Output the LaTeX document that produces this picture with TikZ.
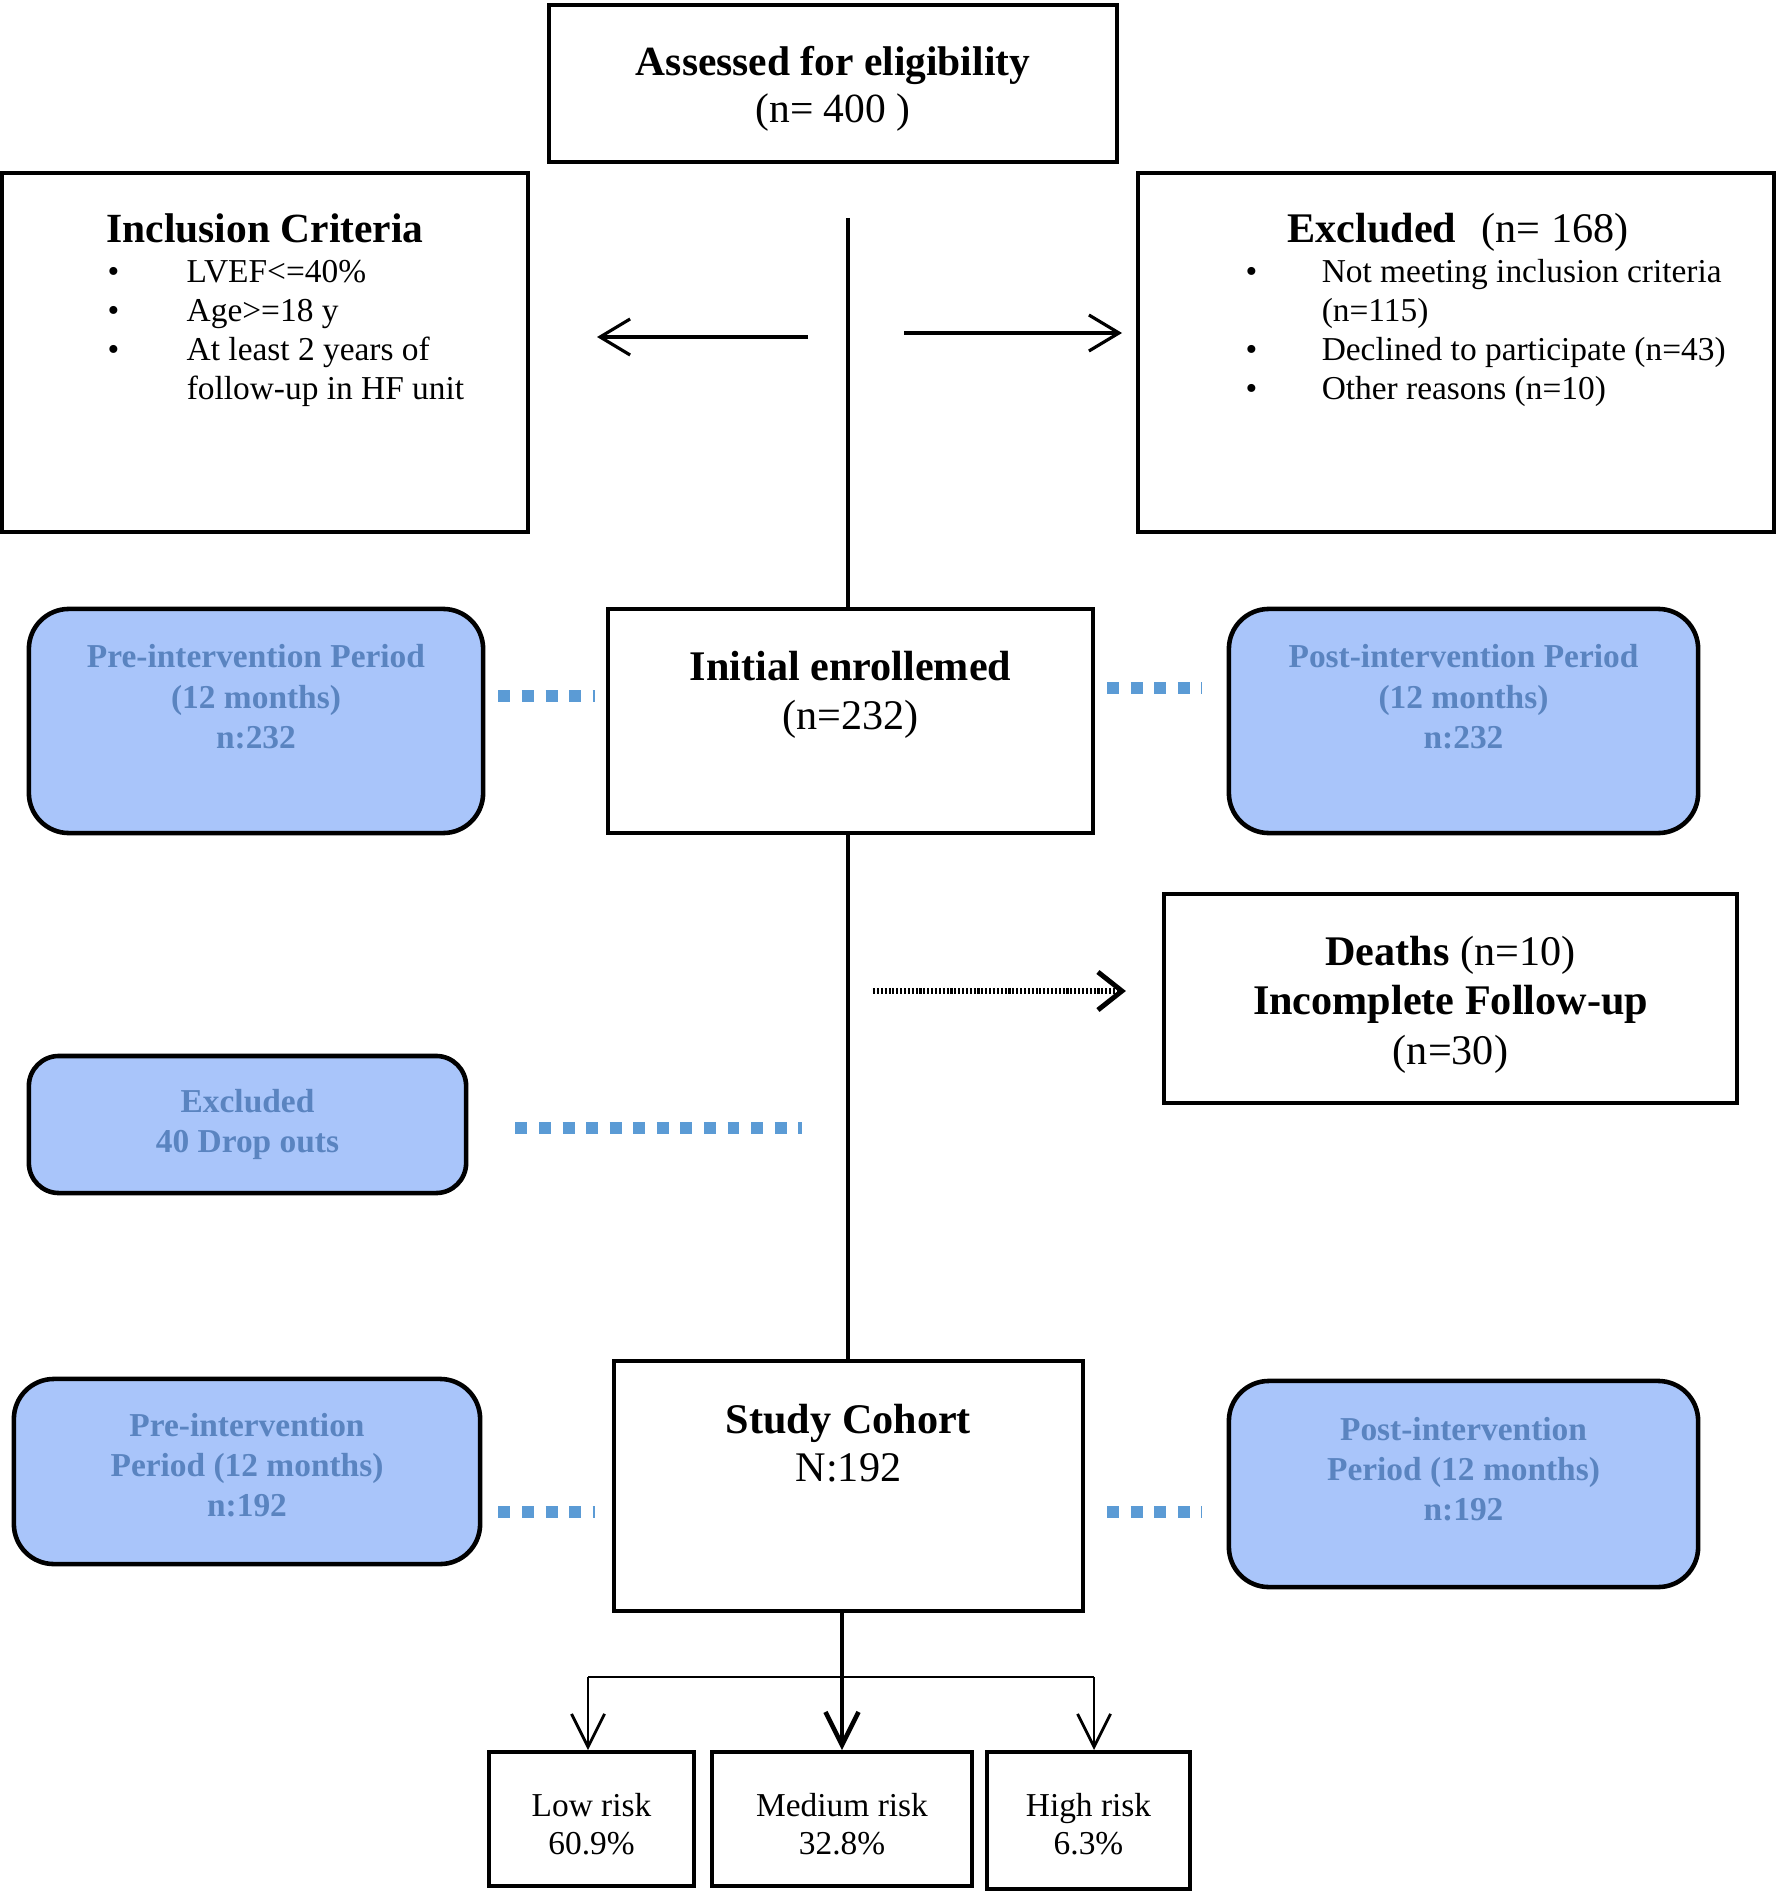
\documentclass[tikz,border=0pt]{standalone}
\usepackage{fontspec}
\setmainfont{Liberation Serif}
\usetikzlibrary{arrows.meta}
\definecolor{boxblue}{HTML}{A9C5FA}
\definecolor{txtblue}{HTML}{5A84C0}
\definecolor{dotblue}{HTML}{5B9BD5}
\newcommand{\boxlines}[1]{\begin{tabular}[t]{@{}c@{}}#1\end{tabular}}

\begin{document}
\begin{tikzpicture}[x=0.01cm, y=-0.01cm,
    plain/.style={draw, line width=1.1pt, inner sep=0pt},
    period/.style={draw, line width=1.3pt, fill=boxblue, rounded corners=0.4cm, inner sep=0pt},
    big/.style={inner sep=0pt, anchor=base, font=\fontsize{12}{14.1}\selectfont},
    small/.style={inner sep=0pt, anchor=base, font=\fontsize{9.5}{11}\selectfont},
    bluetxt/.style={inner sep=0pt, anchor=base, text=txtblue, font=\fontsize{9.5}{11.4}\selectfont\bfseries},
    bluedots/.style={dotblue, line width=3.4pt, dash pattern=on 3.4pt off 3.3pt},
    barb/.style={-{Straight Barb[length=0.3cm, width=0.36cm]}},
    riskbarb/.style={-{Straight Barb[length=0.33cm, width=0.33cm]}}]
    % the frame
    \useasboundingbox (0,0) rectangle (1776,1892);

    % the boxes
    \node[plain, minimum width=5.68cm, minimum height=1.57cm] (assess) at (833,83.5) {};
    \node[plain, minimum width=5.26cm, minimum height=3.59cm] (incl) at (265,352.5) {};
    \node[plain, minimum width=6.36cm, minimum height=3.59cm] (excl) at (1456,352.5) {};
    \node[period, minimum width=4.54cm, minimum height=2.24cm] (preA) at (256,721) {};
    \node[plain, minimum width=4.85cm, minimum height=2.24cm] (init) at (850.5,721) {};
    \node[period, minimum width=4.69cm, minimum height=2.24cm] (postA) at (1463.5,721) {};
    \node[plain, minimum width=5.73cm, minimum height=2.09cm] (deaths) at (1450.5,998.5) {};
    \node[period, rounded corners=0.3cm, minimum width=4.37cm, minimum height=1.37cm] (drop) at (247.5,1124.5) {};
    \node[plain, minimum width=4.69cm, minimum height=2.50cm] (cohort) at (848.5,1486) {};
    \node[period, minimum width=4.66cm, minimum height=1.85cm] (preB) at (247,1471.5) {};
    \node[period, minimum width=4.69cm, minimum height=2.06cm] (postB) at (1463.5,1484) {};
    \node[plain, minimum width=2.05cm, minimum height=1.34cm] (low) at (591.5,1819) {};
    \node[plain, minimum width=2.60cm, minimum height=1.34cm] (med) at (842,1819) {};
    \node[plain, minimum width=2.03cm, minimum height=1.37cm] (high) at (1088.5,1820.5) {};

    % the texts
    \node[big, font=\fontsize{11.8}{13.2}\selectfont] (assess-txt) at (833,76)
        {\boxlines{\textbf{Assessed for eligibility}\\(n= 400 )}};
    \node[big, font=\fontsize{11.8}{14}\selectfont] (incl-title) at (265,243) {\textbf{Inclusion Criteria}};
    \node[small, anchor=base west] (incl-list) at (107,283)
        {\begin{tabular}[t]{@{}p{0.79cm}@{}l@{}}
            \textbullet & LVEF<=40\%\\
            \textbullet & Age>=18 y\\
            \textbullet & At least 2 years of\\
                        & follow-up in HF unit
        \end{tabular}};
    \node[big] (excl-title) at (1458,243) {\textbf{Excluded}\hspace{0.6em}(n= 168)};
    \node[small, anchor=base west] (excl-list) at (1245,283)
        {\begin{tabular}[t]{@{}p{0.76cm}@{}l@{}}
            \textbullet & Not meeting inclusion criteria\\
                        & (n=115)\\
            \textbullet & Declined to participate (n=43)\\
            \textbullet & Other reasons (n=10)
        \end{tabular}};
    \node[bluetxt] (preA-txt) at (256,668) {\boxlines{Pre-intervention Period\\(12 months)\\n:232}};
    \node[big] (init-txt) at (850.5,680) {\boxlines{\textbf{Initial enrollemed}\\(n=232)}};
    \node[bluetxt] (postA-txt) at (1463.5,668) {\boxlines{Post-intervention Period\\(12 months)\\n:232}};
    \node[big] (deaths-txt) at (1450.5,965)
        {\boxlines{\textbf{Deaths} (n=10)\\\textbf{Incomplete Follow-up}\\(n=30)}};
    \node[bluetxt] (drop-txt) at (247.5,1112) {\boxlines{Excluded\\40 Drop outs}};
    \node[big, font=\fontsize{12}{13.7}\selectfont] (cohort-txt) at (848.5,1433)
        {\boxlines{\textbf{Study Cohort}\\N:192}};
    \node[bluetxt] (preB-txt) at (247,1436) {\boxlines{Pre-intervention\\Period (12 months)\\n:192}};
    \node[bluetxt] (postB-txt) at (1463.5,1440) {\boxlines{Post-intervention\\Period (12 months)\\n:192}};
    \node[small] (low-txt) at (591.5,1816) {\boxlines{Low risk\\60.9\%}};
    \node[small] (med-txt) at (842,1816) {\boxlines{Medium risk\\32.8\%}};
    \node[small] (high-txt) at (1088.5,1816) {\boxlines{High risk\\6.3\%}};

    % the spine
    \coordinate (stem) at (848,218);
    \draw[line width=1.1pt] (stem) -- (stem |- init.north);
    \draw[line width=1.1pt] (stem |- init.south) -- (stem |- cohort.north);

    % side arrows
    \coordinate (inclFrom) at (808,337);
    \coordinate (inclTo) at (597,337);
    \draw[barb, line width=0.9pt] (inclFrom) -- (inclTo);
    \coordinate (exclFrom) at (904,333);
    \coordinate (exclTo) at (1122,333);
    \draw[barb, line width=0.9pt] (exclFrom) -- (exclTo);

    % dotted links
    \draw[bluedots, shorten <=0.13cm, shorten >=0.11cm] (preA.east |- 0,696) -- (init.west |- 0,696);
    \draw[bluedots, shorten <=0.12cm, shorten >=0.25cm] (init.east |- 0,688) -- (postA.west |- 0,688);
    \draw[bluedots, shorten <=0.47cm, shorten >=0.46cm] (drop.east |- 0,1128) -- (stem |- 0,1128);
    \draw[bluedots, shorten <=0.16cm, shorten >=0.17cm] (preB.east |- 0,1512) -- (cohort.west |- 0,1512);
    \draw[bluedots, shorten <=0.22cm, shorten >=0.25cm] (cohort.east |- 0,1512) -- (postB.west |- 0,1512);
    \draw[line width=1.5pt, dash pattern=on 0.6pt off 0.5pt,
          -{Straight Barb[length=0.24cm, width=0.38cm, line width=1.4pt]},
          shorten <=0.25cm, shorten >=0.36cm] (stem |- 0,991) -- (deaths.west |- 0,991);

    % risk split
    \coordinate (split) at (842,1677);
    \draw[riskbarb, line width=1.3pt] (cohort.south -| med.north) -- (med.north);
    \draw[line width=0.8pt] ([xshift=-0.035cm]low.north |- split) -- ([xshift=0.055cm]high.north |- split);
    \draw[riskbarb, line width=0.8pt] ([xshift=-0.035cm]low.north |- split) -- ([xshift=-0.035cm]low.north);
    \draw[riskbarb, line width=0.8pt] ([xshift=0.055cm]high.north |- split) -- ([xshift=0.055cm]high.north);
\end{tikzpicture}
\end{document}
